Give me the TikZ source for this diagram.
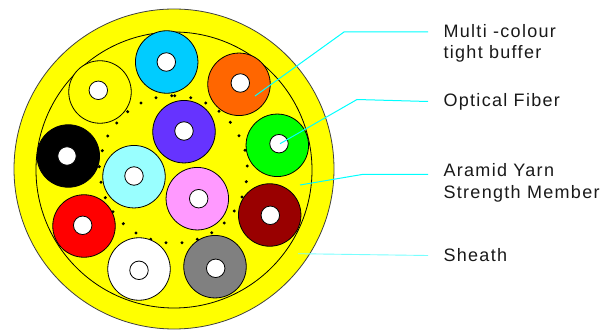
\documentclass[tikz,border=0pt]{standalone}
\usepackage{fontspec}
\setmainfont[LetterSpace=7.3]{Liberation Sans}
\definecolor{sheathy}{RGB}{255,255,0}
\definecolor{leadc}{RGB}{0,255,255}
\definecolor{leadl}{RGB}{120,255,255}
\definecolor{tcyan}{RGB}{0,204,255}
\definecolor{torange}{RGB}{255,102,0}
\definecolor{tviolet}{RGB}{102,51,255}
\definecolor{tgreen}{RGB}{0,255,0}
\definecolor{tice}{RGB}{153,255,255}
\definecolor{tpink}{RGB}{255,153,255}
\definecolor{tdred}{RGB}{153,0,0}
\definecolor{tgray}{RGB}{128,128,128}
\tikzset{
  x=1pt,y=-1pt,
  ring/.style={circle,draw=black,line width=0.8pt,fill=sheathy,inner sep=0pt},
  tube/.style={circle,draw=black,line width=0.8pt,inner sep=0pt,minimum size=62.5pt},
  fibre/.style={circle,draw=black,line width=0.8pt,fill=white,inner sep=0pt,minimum size=18.5pt},
  yarn/.style={circle,fill=black,inner sep=0pt,minimum size=3.3pt},
  leader/.style={draw=leadc,line width=1pt},
  leaderlight/.style={draw=leadl,line width=0.9pt},
  lab/.style={anchor=base west,inner sep=0pt,font=\fontsize{18}{20}\selectfont,text=black!90}
}
\begin{document}
\begin{tikzpicture}
\useasboundingbox (0,0) rectangle (613,331);
\node[ring,minimum size=320pt,draw=black!75] (sheath) at (174,169) {};
\node[ring,minimum size=276pt] (inner) at (174,170) {};
\foreach \i/\p in {
 1/{171.7,95.7},2/{174.7,95.7},3/{156,97.7},4/{141,103},5/{127.7,111.7},6/{116.7,123},7/{107.7,136},8/{102.3,150.7},
 9/{190.7,97.7},10/{205.7,103},11/{219,111.3},12/{230.3,122.3},13/{239,135.7},14/{245,150.3},
 15/{99.3,166.7},16/{101,182.3},17/{105.3,197.7},18/{113,211.7},19/{123.3,223.7},20/{136,233},21/{150.7,239.3},22/{166,242.7},23/{182,242.7},
 24/{247.3,166},25/{246.3,181.7},26/{242,197},27/{234.3,211},28/{224.3,223},29/{211.7,232.7},30/{197.3,239.3}}
 \node[yarn] (y\i) at (\p) {};
\foreach \n/\c/\tx/\ty/\fx/\fy in {
 a/tcyan/166.7/62/166.3/62,
 b/sheathy/100/92/98.3/90.3,
 c/black/68.3/156/67/156,
 d/torange/239/84.3/240.3/83,
 e/tgreen/277.3/145.3/279/143.7,
 f/tviolet/184/131.7/184/131,
 g/tice/134/176.7/134/176,
 h/tpink/197.3/198.7/198.7/198.7,
 i/tdred/269.7/215/270.3/215.3,
 j/tgray/215/266.7/215.7/268.3,
 k/white/139/269/139/270.3,
 l/red/84/226/82.7/225.3}
 {
  \node[tube,fill=\c] (t\n) at (\tx,\ty) {};
  \node[fibre] (f\n) at (\fx,\fy) {};
 }
\node[lab] (l1) at (443.3,37.3) {Multi -colour};
\node[lab] (l1b) at (443.3,58.3) {tight buffer};
\node[lab] (l2) at (443.3,106.7) {Optical Fiber};
\node[lab] (l3) at (443.3,176.7) {Aramid Yarn};
\node[lab] (l3b) at (443.3,198.3) {Strength Member};
\node[lab] (l4) at (443.3,261.7) {Sheath};
\coordinate (a1) at (255,96);
\coordinate (e1) at (428,32);
\coordinate (a2) at (280,143.7);
\coordinate (e2) at (428,101.5);
\coordinate (a3) at (300,185);
\coordinate (e3) at (428,174.5);
\coordinate (a4) at (298,253.7);
\coordinate (e4) at (428,255.5);
\draw[leader] (a1) -- (344,32) -- (e1);
\draw[leader] (a2) -- (357,99.5) -- (e2);
\draw[leader] (a3) -- (362,174.5) -- (e3);
\draw[leaderlight] (a4) -- (e4);
\end{tikzpicture}
\end{document}
